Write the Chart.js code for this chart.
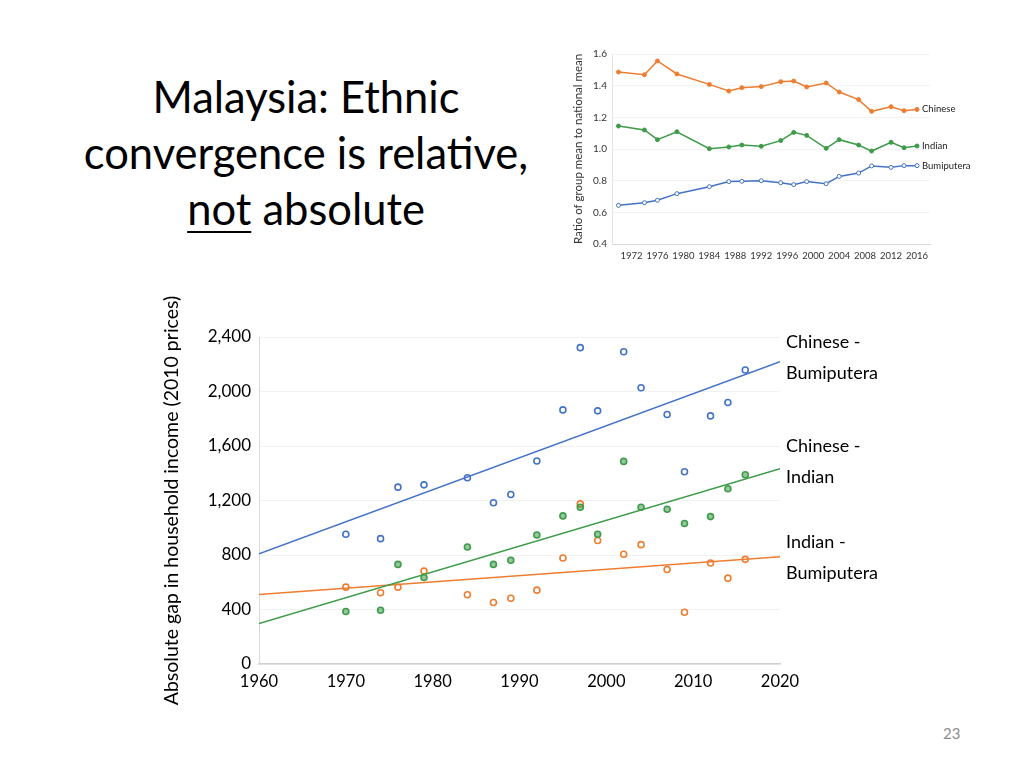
<!DOCTYPE html>
<html>
<head>
<meta charset="utf-8">
<script src="https://cdn.jsdelivr.net/npm/chart.js@4.4.1/dist/chart.umd.min.js"></script>
<style>
    body { margin: 0; width: 1024px; height: 768px; background: #fff; position: relative; overflow: hidden;
           font-family: Lato, 'Open Sans', sans-serif; color: #000; }
    .title { position: absolute; left: 56px; top: 68px; width: 500px; text-align: center;
             font-size: 43.5px; line-height: 56px; }
    .title u { text-decoration-thickness: 2px; text-underline-offset: 6px; }
    #ratioChart { position: absolute; left: 560px; top: 40px; }
    #gapChart { position: absolute; left: 160px; top: 285px; }
    .gap-label { position: absolute; left: 786px; font-size: 18px; line-height: 31px; }
    .page-num { position: absolute; left: 943px; top: 724px; font-size: 15px; color: #8c8c8c; }
</style>
</head>
<body>
<div class="title">Malaysia: Ethnic<br>convergence is relative,<br><u>not</u> absolute</div>

<canvas id="ratioChart" width="440" height="232"></canvas>
<canvas id="gapChart" width="680" height="425"></canvas>

<div class="gap-label" style="top:326px">Chinese -<br>Bumiputera</div>
<div class="gap-label" style="top:430px">Chinese -<br>Indian</div>
<div class="gap-label" style="top:526px">Indian -<br>Bumiputera</div>

<div class="page-num">23</div>

<script>
// survey years (Household Income Survey)
const surveyYears = [1970, 1974, 1976, 1979, 1984, 1987, 1989, 1992, 1995, 1997, 1999, 2002, 2004, 2007, 2009, 2012, 2014, 2016];

// top chart: ratio of group mean to national mean
const ratioTickYears = [1972, 1976, 1980, 1984, 1988, 1992, 1996, 2000, 2004, 2008, 2012, 2016];
const ratioChinese = [1.486, 1.469, 1.556, 1.474, 1.408, 1.366, 1.387, 1.394, 1.425, 1.429, 1.392, 1.417, 1.360, 1.312, 1.238, 1.267, 1.242, 1.250];
const ratioIndian = [1.145, 1.120, 1.059, 1.109, 1.002, 1.013, 1.025, 1.017, 1.053, 1.105, 1.086, 1.004, 1.059, 1.025, 0.987, 1.042, 1.008, 1.019];
const ratioBumi = [0.644, 0.661, 0.676, 0.718, 0.762, 0.794, 0.796, 0.800, 0.787, 0.775, 0.794, 0.781, 0.827, 0.848, 0.893, 0.884, 0.895, 0.895];

// bottom chart: absolute gap in household income (2010 prices)
const gapChineseBumi = [952, 920, 1298, 1315, 1367, 1183, 1244, 1490, 1865, 2322, 1858, 2292, 2027, 1831, 1411, 1821, 1919, 2158];
const gapChineseIndian = [385, 395, 731, 635, 859, 731, 761, 947, 1087, 1151, 952, 1487, 1151, 1136, 1031, 1082, 1286, 1389];
const gapIndianBumi = [564, 523, 564, 682, 508, 451, 483, 542, 778, 1175, 906, 805, 876, 694, 380, 741, 630, 768];
const gapYearRange = [1960, 2020];

const BLUE = '#4472C4';
const ORANGE = '#ED7D31';
const GREEN = '#3E9B4A';
const FONT = 'Lato, "Open Sans", sans-serif';

let charts = {};

document.addEventListener('DOMContentLoaded', function() {
    initRatioChart();
    initGapChart();
});

function toPoints(values) {
    return surveyYears.map((yr, i) => ({x: yr, y: values[i]}));
}

// least squares line through the points, evaluated at the ends of the x range
function trendPoints(values) {
    const n = surveyYears.length;
    const mx = surveyYears.reduce((a, b) => a + b, 0) / n;
    const my = values.reduce((a, b) => a + b, 0) / n;
    let sxy = 0, sxx = 0;
    for (let i = 0; i < n; i++) {
        sxy += (surveyYears[i] - mx) * (values[i] - my);
        sxx += (surveyYears[i] - mx) * (surveyYears[i] - mx);
    }
    const slope = sxy / sxx;
    return gapYearRange.map(x => ({x: x, y: my + slope * (x - mx)}));
}

// writes each series name just right of its last point
const endLabels = {
    id: 'endLabels',
    afterDatasetsDraw(chart) {
        const ctx = chart.ctx;
        ctx.save();
        ctx.font = '9.5px ' + FONT;
        ctx.fillStyle = '#222';
        ctx.textBaseline = 'middle';
        chart.data.datasets.forEach((ds, i) => {
            const pts = chart.getDatasetMeta(i).data;
            const last = pts[pts.length - 1];
            ctx.fillText(ds.label, last.x + 5, last.y);
        });
        ctx.restore();
    }
};

function initRatioChart() {
    const ctx = document.getElementById('ratioChart').getContext('2d');
    charts.ratio = new Chart(ctx, {
        type: 'line',
        data: {
            datasets: [{
                label: 'Chinese',
                data: toPoints(ratioChinese),
                borderColor: ORANGE,
                backgroundColor: ORANGE,
                borderWidth: 1.5,
                pointRadius: 2,
                pointBorderWidth: 1
            }, {
                label: 'Indian',
                data: toPoints(ratioIndian),
                borderColor: GREEN,
                backgroundColor: GREEN,
                borderWidth: 1.5,
                pointRadius: 2,
                pointBorderWidth: 1
            }, {
                label: 'Bumiputera',
                data: toPoints(ratioBumi),
                borderColor: BLUE,
                backgroundColor: '#fff',
                borderWidth: 1.5,
                pointRadius: 2,
                pointBorderWidth: 1
            }]
        },
        options: {
            responsive: false,
            animation: false,
            layout: { padding: { top: 14, right: 70 } },
            plugins: { legend: { display: false }, tooltip: { enabled: false } },
            scales: {
                x: {
                    type: 'linear',
                    min: 1969,
                    max: 2018,
                    afterBuildTicks: scale => { scale.ticks = ratioTickYears.map(v => ({value: v})); },
                    afterFit: scale => { scale.height = 28; },
                    grid: { display: false, drawTicks: false },
                    border: { color: '#d9d9d9' },
                    ticks: { font: { family: FONT, size: 9.5 }, color: '#333', padding: 6,
                             maxRotation: 0, autoSkip: false, callback: v => String(v) }
                },
                y: {
                    min: 0.4,
                    max: 1.6,
                    afterFit: scale => { scale.width = 52; },
                    grid: { color: '#f3f3f3', drawTicks: false },
                    border: { color: '#e3e3e3' },
                    ticks: { stepSize: 0.2, font: { family: FONT, size: 10 }, color: '#333', padding: 5,
                             callback: v => v.toFixed(1) },
                    title: { display: true, text: 'Ratio of group mean to national mean',
                             font: { family: FONT, size: 11.5 }, color: '#333', padding: { top: 11, bottom: 0 } }
                }
            }
        },
        plugins: [endLabels]
    });
}

function initGapChart() {
    const ctx = document.getElementById('gapChart').getContext('2d');
    const series = [
        {label: 'Chinese - Bumiputera', values: gapChineseBumi, color: BLUE, fill: 'rgba(255,255,255,0)'},
        {label: 'Chinese - Indian', values: gapChineseIndian, color: GREEN, fill: 'rgba(62,155,74,0.55)'},
        {label: 'Indian - Bumiputera', values: gapIndianBumi, color: ORANGE, fill: 'rgba(255,255,255,0)'}
    ];
    const datasets = [];
    series.forEach(s => {
        datasets.push({
            type: 'line',
            label: s.label + ' trend',
            data: trendPoints(s.values),
            borderColor: s.color,
            borderWidth: 1.5,
            pointRadius: 0,
            fill: false
        });
        datasets.push({
            type: 'scatter',
            label: s.label,
            data: toPoints(s.values),
            borderColor: s.color,
            backgroundColor: s.fill,
            pointRadius: 3,
            pointBorderWidth: 1.6
        });
    });

    charts.gap = new Chart(ctx, {
        type: 'scatter',
        data: { datasets: datasets },
        options: {
            responsive: false,
            animation: false,
            layout: { padding: { top: 52, right: 60 } },
            plugins: { legend: { display: false }, tooltip: { enabled: false } },
            scales: {
                x: {
                    type: 'linear',
                    min: gapYearRange[0],
                    max: gapYearRange[1],
                    afterFit: scale => { scale.height = 46; },
                    grid: { display: false, drawTicks: false },
                    border: { color: '#d0d0d0', width: 1.5 },
                    ticks: { stepSize: 10, font: { family: FONT, size: 16.5 }, color: '#000', padding: 8,
                             maxRotation: 0, callback: v => String(v) }
                },
                y: {
                    min: 0,
                    max: 2400,
                    afterFit: scale => { scale.width = 99; },
                    grid: { color: '#f2f2f2', drawTicks: false },
                    border: { color: '#d9d9d9' },
                    ticks: { stepSize: 400, font: { family: FONT, size: 17 }, color: '#000', padding: 8,
                             callback: v => v.toLocaleString('en-US') },
                    title: { display: true, text: 'Absolute gap in household income (2010 prices)',
                             font: { family: FONT, size: 19.5 }, color: '#000', padding: { top: 0, bottom: 0 } }
                }
            }
        }
    });
}
</script>
</body>
</html>
